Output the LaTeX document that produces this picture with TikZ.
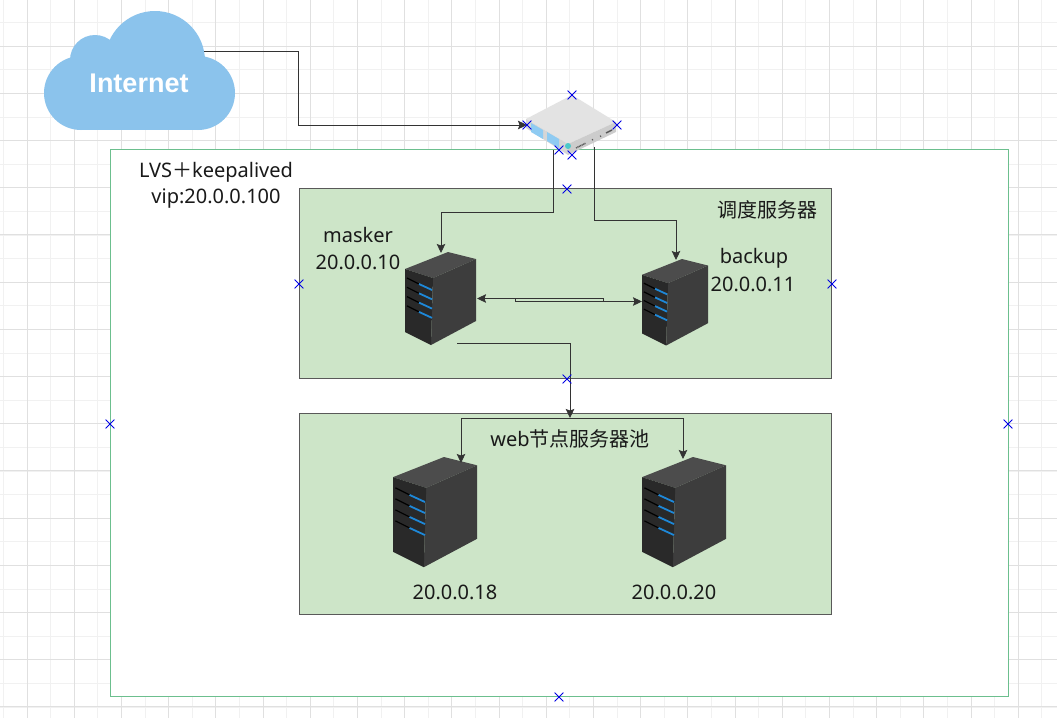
\documentclass[tikz,border=0pt]{standalone}
\usepackage{fontspec}
\setmainfont{Noto Sans}
\newfontfamily\cjk{Noto Sans CJK SC}
\newfontfamily\cloudfont{Liberation Sans}
\usetikzlibrary{arrows.meta, shapes.misc, calc}
\definecolor{cloudblue}{HTML}{8BC3EC}
\definecolor{panelgreen}{HTML}{CDE5C8}
\definecolor{outergreen}{HTML}{6CBF8E}
\definecolor{linegray}{HTML}{333333}
\definecolor{gridmajor}{HTML}{E0E0E0}
\definecolor{gridminor}{HTML}{F1F1F1}
\definecolor{driveblue}{HTML}{1E88D8}
\definecolor{windowblue}{HTML}{8FCBF2}
\tikzset{
  lbl/.style={inner sep=0pt, text=black!90, font=\fontsize{20}{24}\selectfont},
  link/.style={draw=linegray, line width=0.85pt},
  panel/.style={fill=panelgreen, draw=black!65, line width=0.9pt},
  xmark/.style={cross out, draw=blue!90!black, line width=0.8pt, inner sep=0pt, minimum size=8pt},
  serverpic/.pic={
    \fill[black!70] (0,17) -- (43,0) -- (71,7) -- (28,26) -- cycle;
    \fill[black!76] (28,26) -- (71,7) -- (71,69) -- (26,93) -- cycle;
    \fill[black!84] (0,17) -- (28,26) -- (26,93) -- (0,80) -- cycle;
    \foreach \k in {0,1,2,3} {
      \draw[black, line width=1.2pt] (2,26+9.3*\k) -- (14,32+9.3*\k);
      \draw[driveblue, line width=1.8pt] (14,32+9.3*\k) -- (27,38+9.3*\k);
    }
  }
}
\begin{document}
\begin{tikzpicture}[x=1pt, y=-1pt, >={Stealth[length=9pt,width=8.5pt,inset=1.5pt]}]
  \useasboundingbox (0,0) rectangle (1057,718);
  \fill[white] (0,0) rectangle (1057,718);

  % grid
  \foreach \i in {-1,...,44} {
    \draw[gridminor, line width=1pt] ({3.5+23.6*\i},0) -- ({3.5+23.6*\i},718);
    \draw[gridminor, line width=1pt] (0,{-1+23.6*\i}) -- (1057,{-1+23.6*\i});
  }
  \foreach \i in {0,...,22} {
    \draw[gridmajor, line width=1pt] ({27.1+47.2*\i},0) -- ({27.1+47.2*\i},718);
    \draw[gridmajor, line width=1pt] (0,{-1.2+47.2*\i}) -- (1057,{-1.2+47.2*\i});
  }

  % cloud
  \fill[cloudblue] (81,93) circle (37);
  \fill[cloudblue] (198,93) circle (37);
  \fill[cloudblue] (95,60) circle (25);
  \fill[cloudblue] (155,61) circle (50);
  \fill[cloudblue] (81,60) rectangle (198,130);
  \node[inner sep=0pt, text=white, font=\fontsize{27}{30}\selectfont\cloudfont\bfseries] (internet) at (139,83) {Internet};
  \coordinate (cloudout) at (204,51);

  % boxes
  \node[draw=outergreen, fill=white, line width=1pt, minimum width=898pt, minimum height=547pt, inner sep=0pt] (lvsbox) at (559,423) {};
  \node[panel, minimum width=532pt, minimum height=190pt, inner sep=0pt] (sched) at (565.5,283.5) {};
  \node[panel, minimum width=532pt, minimum height=201pt, inner sep=0pt] (pool) at (565.5,514) {};

  % switch
  \fill[black!11] (526,119) -- (572,95) -- (616,122) -- (568,144) -- cycle;
  \fill[black!16] (526,119) -- (568,144) -- (568,155) -- (526,128) -- cycle;
  \fill[black!20] (568,144) -- (616,122) -- (616,132) -- (568,155) -- cycle;
  \fill[windowblue] (531,123) -- (543,130) -- (543,139) -- (531,132) -- cycle;
  \fill[windowblue] (547,132) -- (559,139) -- (559,148) -- (547,141) -- cycle;
  \fill[teal!60!cyan!70] (568,146) circle (3);
  \draw[black!65, line width=1.5pt, dash pattern=on 1pt off 0.6pt] (576,148) -- (586,143);
  \draw[black!65, line width=1.5pt] (592,140) -- (593,139.5) (600,136.5) -- (601,136) (606,133) -- (612,130);
  \coordinate (swin) at (527,125);
  \coordinate (swa) at (553,150);
  \coordinate (swb) at (594,147);

  % servers
  \pic at (405,252) {serverpic};
  \pic[scale=0.93] at (642,259) {serverpic};
  \pic[scale=1.185] at (393,457) {serverpic};
  \pic[scale=1.185] at (642,457) {serverpic};
  \coordinate (maskertop) at (441,253);
  \coordinate (maskerright) at (477,298.5);
  \coordinate (maskerout) at (457,343);
  \coordinate (backuptop) at (676,260);
  \coordinate (backupleft) at (642,301.5);
  \coordinate (bridgea) at (603,301.5);
  \coordinate (bridgeb) at (515,298.5);
  \coordinate (pooltop) at (570,418);
  \coordinate (web1) at (461,463);
  \coordinate (web2) at (683,459);

  % links
  \draw[link, ->] (cloudout) -- (298,51) -- (298,125) -- (swin);
  \draw[link, ->] (swa) -- (553,212) -- (441,212) -- (maskertop);
  \draw[link, ->] (swb) -- (594,220) -- (676,220) -- (backuptop);
  \draw[link, ->] (bridgea) -- (603,298.5) -- (maskerright);
  \draw[link, ->] (bridgeb) -- (515,301.5) -- (backupleft);
  \draw[link, ->] (maskerout) -- (570,343) -- (pooltop);
  \draw[link, ->] (pooltop) -- (461,418) -- (web1);
  \draw[link, ->] (pooltop) -- (683,418) -- (web2);

  % labels
  \node[lbl] (lvstext) at (216,172) {LVS{\cjk ＋}keepalived};
  \node[lbl] (viptext) at (216,199) {vip:20.0.0.100};
  \node[lbl] (maskername) at (358,235) {masker};
  \node[lbl] (maskerip) at (358,262) {20.0.0.10};
  \node[lbl] (backupname) at (754,258) {backup};
  \node[lbl] (backupip) at (753,284) {20.0.0.11};
  \node[lbl] (schedtext) at (767,210) {\cjk 调度服务器};
  \node[lbl] (pooltext) at (570,439) {web{\cjk 节点服务器池}};
  \node[lbl] (webipa) at (455,592) {20.0.0.18};
  \node[lbl] (webipb) at (674,592) {20.0.0.20};

  % handles
  \foreach \p/\q in {572/95, 527/125, 617/125, 559/150, 572/155, 567/189, 299/284, 832/284, 567/379, 110/424, 1008/424, 559/697}
    \node[xmark] (h\p) at (\p,\q) {};
\end{tikzpicture}
\end{document}
